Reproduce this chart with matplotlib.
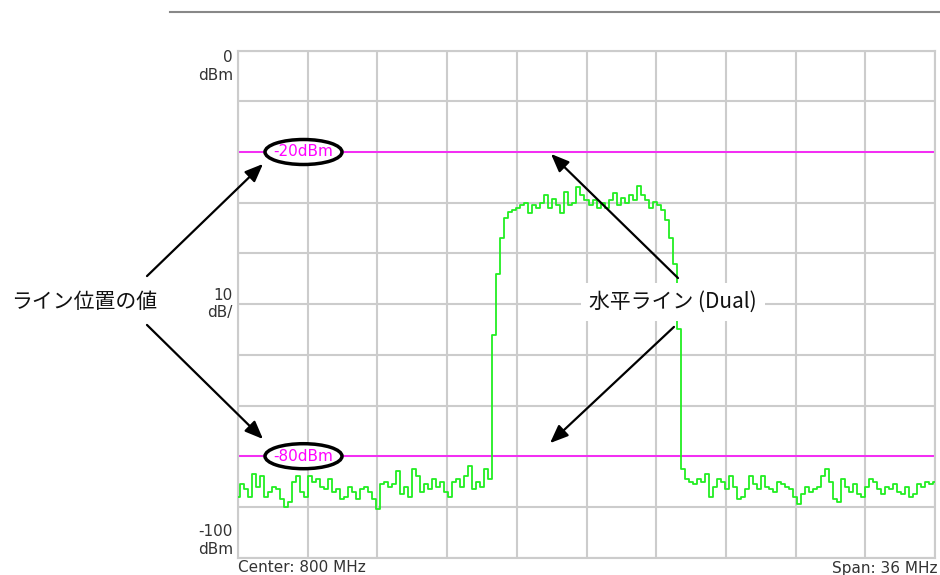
import numpy as np
import matplotlib
matplotlib.use("Agg")
from matplotlib import pyplot as plt
from matplotlib.patches import Ellipse

# spectrum trace (dBm), left to right across the span
trace_dbm = [
    -88, -85.5, -86.5, -88, -83.5, -86, -84, -88, -87, -86,
    -86.5, -88.5, -90, -89, -85, -84, -87, -88, -84, -85,
    -84.5, -86, -86.5, -84.5, -87, -86.5, -88.5, -88, -86, -87,
    -88.5, -86.5, -86, -87, -88.5, -90.5, -85.5, -85, -86, -85.5,
    -83, -87.5, -86, -88, -82.5, -84, -87, -85.5, -86.5, -84.5,
    -86, -85, -87, -88, -85, -84.5, -86, -84, -82, -86.5,
    -85, -86, -82.5, -84.5, -56, -44, -37, -33, -31.8, -31.5,
    -31, -30.5, -30, -32, -30.5, -31, -30, -28.5, -31, -29.3,
    -30.5, -32, -27.8, -30.5, -30, -27, -28.5, -29.5, -30.5, -29.5,
    -31, -30, -31, -29.5, -28, -30.5, -29, -30, -28.5, -29.5,
    -26.8, -28.5, -29.5, -31, -29.8, -30.5, -31.5, -33.5, -37, -42,
    -55, -82.5, -84.5, -85, -85.5, -84.5, -85, -83.5, -88, -86,
    -84.5, -85, -86.5, -84, -86, -88.5, -88, -86.5, -84, -85.5,
    -86.5, -84, -86, -86.5, -87, -85, -85.5, -86, -86.5, -88,
    -89.5, -87.5, -86, -87, -86.5, -86, -84, -82.5, -85, -88.5,
    -89, -84.5, -86, -87, -85.5, -87.5, -88, -86, -84.5, -85,
    -86.5, -87.5, -86, -86.5, -85.5, -87, -87.5, -86, -88, -87.5,
    -85.5, -86, -85, -85.5, -85,
]
center_mhz = 800
span_mhz = 36
ref_level = 0
db_per_div = 10
line_levels = [-20, -80]
line_labels = ["-20dBm", "-80dBm"]

W, H = 940, 575
fig = plt.figure(figsize=(W / 100, H / 100), dpi=100)


def fx(x):
    return x / W


def fy(y):
    return 1 - y / H


ax = fig.add_axes([fx(238), fy(557.6), (935 - 238) / W, (557.6 - 50.6) / H])
f0 = center_mhz - span_mhz / 2
f1 = center_mhz + span_mhz / 2
ax.set_xlim(f0, f1)
ax.set_ylim(ref_level - 10 * db_per_div, ref_level)
ax.set_xticks(np.linspace(f0, f1, 11))
ax.set_yticks(np.arange(-100, 1, 10))
ax.grid(True, color="#cccccc", lw=1.5)
ax.tick_params(length=0, labelbottom=False, labelleft=False)
for s in ax.spines.values():
    s.set_color("#cccccc")
    s.set_linewidth(1.5)

freqs = np.linspace(f0, f1, len(trace_dbm))
ax.plot(freqs, trace_dbm, color="#22ee22", lw=1.3, drawstyle="steps-mid", zorder=3)

for lv, lab in zip(line_levels, line_labels):
    ax.axhline(lv, color="#ff00ff", lw=1.1, zorder=2)
    ex = f0 + (303.5 - 238) / 697 * span_mhz
    ax.add_patch(Ellipse((ex, lv), 77 / 697 * span_mhz, 25 / 5.07,
                         facecolor="white", edgecolor="black", lw=2.5, zorder=4))
    ax.text(ex, lv, lab, color="#ff00ff", fontsize=11, ha="center", va="center",
            family="DejaVu Sans", zorder=5)

# top rule
fig.add_artist(plt.Line2D([fx(170), fx(940)], [fy(12), fy(12)], color="#888888", lw=1.5))

lab_font = dict(fontsize=11, family="DejaVu Sans", color="#333333")
fig.text(fx(233), fy(57), "0", ha="right", va="center", **lab_font)
fig.text(fx(233), fy(76), "dBm", ha="right", va="center", **lab_font)
fig.text(fx(233), fy(296), "10", ha="right", va="center", **lab_font)
fig.text(fx(233), fy(313), "dB/", ha="right", va="center", **lab_font)
fig.text(fx(233), fy(531), "-100", ha="right", va="center", **lab_font)
fig.text(fx(233), fy(549), "dBm", ha="right", va="center", **lab_font)
fig.text(fx(238), fy(568), "Center: 800 MHz", ha="left", va="center", **lab_font)
fig.text(fx(938), fy(568), "Span: 36 MHz", ha="right", va="center", **lab_font)

jp = ["Noto Sans CJK JP", "DejaVu Sans"]
fig.text(fx(84), fy(302), "ライン位置の値", ha="center", va="center",
         fontsize=15, family=jp, color="#111111")
fig.text(fx(673), fy(302), "水平ライン (Dual)", ha="center", va="center",
         fontsize=15, family=jp, color="#111111",
         bbox=dict(facecolor="white", edgecolor="none", pad=6), zorder=6)

arrows = [((145, 278), (265, 162)), ((145, 323), (265, 441)),
          ((680, 280), (549, 152)), ((676, 325), (548, 445))]
for (x0, y0), (x1, y1) in arrows:
    fig.add_artist(matplotlib.patches.FancyArrowPatch(
        (fx(x0), fy(y0)), (fx(x1), fy(y1)), transform=fig.transFigure,
        arrowstyle="-|>,head_length=11,head_width=4.5", mutation_scale=1,
        color="black", lw=1.6, zorder=7))

fig.savefig("out.png", dpi=100, facecolor="white")
